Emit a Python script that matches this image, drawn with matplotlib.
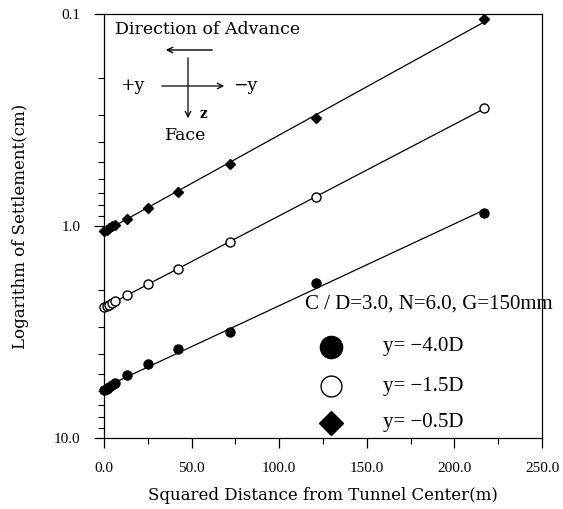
import numpy as np
import matplotlib.pyplot as plt
from matplotlib.ticker import FixedLocator, LogLocator, NullFormatter

# data
dist_sq = [0, 1.5, 3, 4.5, 6.5, 13, 25, 42, 72, 121, 217]
settle_40 = [5.94, 5.85, 5.75, 5.62, 5.49, 5.04, 4.48, 3.80, 3.15, 1.86, 0.87]
settle_15 = [2.42, 2.38, 2.35, 2.31, 2.26, 2.12, 1.88, 1.60, 1.19, 0.727, 0.279]
settle_05 = [1.06, 1.04, 1.02, 1.00, 0.99, 0.93, 0.82, 0.69, 0.51, 0.31, 0.106]
labels = ['y= \u22124.0D', 'y= \u22121.5D', 'y= \u22120.5D']
x_ticks = [0, 50, 100, 150, 200, 250]
x_ticklabels = ['0.0', '50.0', '100.0', '150.0', '200.0', '250.0']
y_ticks = [0.1, 1.0, 10.0]
y_ticklabels = ['0.1', '1.0', '10.0']

serif = 'DejaVu Serif'
plt.rcParams['font.family'] = serif

fig = plt.figure(figsize=(5.63, 5.09), dpi=100)
ax = fig.add_axes([104 / 563, 1 - 438 / 509, 438 / 563, 424 / 509])

styles = [
    dict(marker='o', mfc='black', mec='black', ms=6.5),
    dict(marker='o', mfc='white', mec='black', ms=6.5, mew=1.0),
    dict(marker='D', mfc='black', mec='black', ms=5.0),
]
series = [settle_40, settle_15, settle_05]

for vals, st in zip(series, styles):
    x = np.array(dist_sq)
    y = np.array(vals)
    k, b = np.polyfit(x, np.log10(y), 1)
    xx = np.array([0, x.max()])
    ax.plot(xx, 10 ** (k * xx + b), color='black', lw=0.9, zorder=2)
    ax.plot(x, y, linestyle='none', zorder=3, clip_on=False, **st)

ax.set_yscale('log')
ax.set_xlim(0, 250)
ax.set_ylim(10.0, 0.1)

ax.set_xticks(x_ticks)
ax.set_xticklabels(x_ticklabels, family='Liberation Serif', fontsize=11)
ax.xaxis.set_minor_locator(FixedLocator(np.arange(25, 250, 50)))
ax.set_yticks(y_ticks)
ax.set_yticklabels(y_ticklabels, family='Liberation Serif', fontsize=11)
ax.yaxis.set_minor_locator(LogLocator(base=10, subs=np.arange(2, 10)))
ax.yaxis.set_minor_formatter(NullFormatter())
ax.tick_params(which='major', direction='out', length=7, width=0.9, pad=10)
ax.tick_params(which='minor', direction='out', length=4, width=0.8)
for s in ax.spines.values():
    s.set_linewidth(0.9)

ax.set_xlabel('Squared Distance from Tunnel Center(m)', fontsize=12, labelpad=9)
ax.set_ylabel('Logarithm of Settlement(cm)', fontsize=12, labelpad=18)


def fx(px):
    return (px - 104) / 438


def fy(py):
    return (438 - py) / 424


# direction sketch
tr = ax.transAxes
ax.text(fx(208), fy(30), 'Direction of Advance', transform=tr, fontsize=12.5,
        ha='center', va='center')
ax.annotate('', xy=(fx(163), fy(50)), xytext=(fx(215), fy(50)), xycoords=tr,
            arrowprops=dict(arrowstyle='->', lw=1.0, color='black'))
ax.annotate('', xy=(fx(227), fy(86)), xytext=(fx(159), fy(86)), xycoords=tr,
            arrowprops=dict(arrowstyle='->', lw=0.9, color='black'))
ax.annotate('', xy=(fx(188), fy(121)), xytext=(fx(188), fy(55)), xycoords=tr,
            arrowprops=dict(arrowstyle='->', lw=0.9, color='black'))
ax.text(fx(132), fy(86), '+y', transform=tr, fontsize=12.5, ha='center', va='center')
ax.text(fx(245), fy(86), '\u2212y', transform=tr, fontsize=12.5, ha='center', va='center')
ax.text(fx(203), fy(114), 'z', transform=tr, fontsize=10, ha='center', va='center',
        weight='bold')
ax.text(fx(186), fy(135), 'Face', transform=tr, fontsize=12.5, ha='center', va='center')

# legend
ax.text(fx(429), fy(304), 'C / D=3.0, N=6.0, G=150mm', transform=tr, fontsize=15,
        family='Liberation Serif', ha='center', va='center', clip_on=False)
leg_y = [347, 386, 423]
leg_ms = [16, 15, 12.5]
for lab, st, ly, ms in zip(labels, styles, leg_y, leg_ms):
    st2 = dict(st)
    st2['ms'] = ms
    ax.plot([fx(331)], [fy(ly)], transform=tr, linestyle='none', clip_on=False, **st2)
    ax.text(fx(383), fy(ly), lab, transform=tr, fontsize=15,
            family='Liberation Serif', ha='left', va='center')

plt.savefig('out.png', dpi=100)
